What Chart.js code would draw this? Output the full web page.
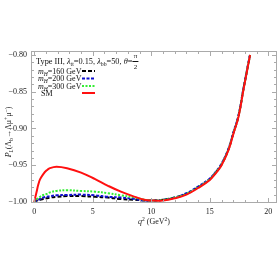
<!DOCTYPE html>
<html>
<head>
<meta charset="utf-8">
<script src="https://cdn.jsdelivr.net/npm/chart.js@4.4.0/dist/chart.umd.min.js"></script>
<style>
  html, body { margin: 0; padding: 0; background: #fff; }
  #wrap { width: 278px; height: 278px; }
</style>
</head>
<body>
<div id="wrap"><canvas id="chart" width="278" height="278"></canvas></div>
<script>
// data
const q2 = [0, 0.1, 0.2, 0.35, 0.5, 0.77, 1.06, 1.34, 1.9, 2.8, 4, 5.2, 6.3, 7.4, 8.6, 9.4, 10, 11, 12, 13, 14, 15, 15.5, 16, 16.6, 17, 17.45, 17.9, 18.44];
const smValues = [-1.000, -0.993, -0.986, -0.976, -0.969, -0.962, -0.957, -0.954, -0.952, -0.954, -0.960, -0.969, -0.978, -0.986, -0.993, -0.997, -0.998, -0.998, -0.995, -0.990, -0.981, -0.970, -0.961, -0.950, -0.929, -0.908, -0.884, -0.845, -0.800];
const mH300 = [-1.000, -0.998, -0.996, -0.995, -0.993, -0.9905, -0.989, -0.987, -0.985, -0.984, -0.985, -0.986, -0.988, -0.991, -0.994, -0.997, -0.998, -0.997, -0.994, -0.989, -0.980, -0.969, -0.960, -0.949, -0.928, -0.907, -0.883, -0.844, -0.800];
const mH200 = [-1.000, -0.999, -0.998, -0.997, -0.996, -0.994, -0.993, -0.992, -0.991, -0.9905, -0.990, -0.991, -0.993, -0.994, -0.996, -0.998, -0.998, -0.997, -0.994, -0.988, -0.979, -0.968, -0.959, -0.948, -0.927, -0.906, -0.882, -0.843, -0.799];
const mH160 = [-1.000, -0.999, -0.998, -0.998, -0.997, -0.996, -0.995, -0.994, -0.993, -0.992, -0.992, -0.993, -0.994, -0.996, -0.997, -0.998, -0.998, -0.997, -0.994, -0.989, -0.980, -0.969, -0.960, -0.949, -0.928, -0.907, -0.883, -0.844, -0.800];

const xTicks = [0, 5, 10, 15, 20];
const xTickLabels = ['0', '5', '10', '15', '20'];
const yTicks = [-1.00, -0.95, -0.90, -0.85, -0.80];
const yTickLabels = ['\u22121.00', '\u22120.95', '\u22120.90', '\u22120.85', '\u22120.80'];

const seriesNames = ['160 GeV', '200 GeV', '300 GeV', 'SM'];

const FONT = '"Liberation Serif", "DejaVu Serif", serif';

function pts(ys) {
    return q2.map((x, i) => ({ x: x, y: ys[i] }));
}

// draw a run of text pieces: {t, sub, sup, it}
function drawRich(ctx, parts, x, y, size) {
    let cx = x;
    parts.forEach(p => {
        const small = p.sub || p.sup;
        const fs = small ? size * 0.7 : size;
        ctx.font = (p.it ? 'italic ' : '') + fs + 'px ' + FONT;
        const dy = p.sub ? size * 0.3 : (p.sup ? -size * 0.4 : 0);
        ctx.fillText(p.t, cx, y + dy);
        cx += ctx.measureText(p.t).width;
    });
    return cx;
}

function richWidth(ctx, parts, size) {
    let w = 0;
    parts.forEach(p => {
        const fs = (p.sub || p.sup) ? size * 0.7 : size;
        ctx.font = (p.it ? 'italic ' : '') + fs + 'px ' + FONT;
        w += ctx.measureText(p.t).width;
    });
    return w;
}

// frame, inward ticks, labels, titles and legend
const framePlugin = {
    id: 'frame',
    afterDatasetsDraw(chart) {
        const ctx = chart.ctx;
        const area = chart.chartArea;
        const xs = chart.scales.x;
        const ys = chart.scales.y;
        ctx.save();
        ctx.strokeStyle = '#aaa';
        ctx.lineWidth = 1;
        ctx.strokeRect(area.left + 0.5, area.top + 0.5, area.right - area.left - 1, area.bottom - area.top - 1);

        // x ticks (major every 5, minor every 1)
        for (let v = 0; v <= 20; v++) {
            const px = Math.round(xs.getPixelForValue(v)) + 0.5;
            const len = v % 5 === 0 ? 5 : 3;
            ctx.beginPath();
            ctx.moveTo(px, area.bottom); ctx.lineTo(px, area.bottom - len);
            ctx.moveTo(px, area.top); ctx.lineTo(px, area.top + len);
            ctx.stroke();
        }
        // y ticks (major every 0.05, minor every 0.01)
        for (let k = 0; k <= 20; k++) {
            const v = -1.0 + k * 0.01;
            const py = Math.round(ys.getPixelForValue(v)) + 0.5;
            const len = k % 5 === 0 ? 5 : 3;
            ctx.beginPath();
            ctx.moveTo(area.left, py); ctx.lineTo(area.left + len, py);
            ctx.moveTo(area.right, py); ctx.lineTo(area.right - len, py);
            ctx.stroke();
        }

        ctx.fillStyle = '#222';
        ctx.font = '8px ' + FONT;
        ctx.textAlign = 'center';
        ctx.textBaseline = 'top';
        xTicks.forEach((v, i) => {
            ctx.fillText(xTickLabels[i], xs.getPixelForValue(v), area.bottom + 5);
        });
        ctx.textAlign = 'right';
        ctx.textBaseline = 'middle';
        yTicks.forEach((v, i) => {
            ctx.fillText(yTickLabels[i], area.left - 4, ys.getPixelForValue(v));
        });

        // axis titles
        ctx.textAlign = 'left';
        ctx.textBaseline = 'alphabetic';
        const xt = [{ t: 'q', it: true }, { t: '2', sup: true }, { t: ' (GeV' }, { t: '2', sup: true }, { t: ')' }];
        const xw = richWidth(ctx, xt, 8);
        drawRich(ctx, xt, (area.left + area.right) / 2 - xw / 2, 224, 8);

        const yt = [{ t: 'P', it: true }, { t: 'L', sub: true, it: true }, { t: '(\u039B' }, { t: 'b', sub: true },
                    { t: '\u2192\u039B\u03BC' }, { t: '+', sup: true }, { t: '\u03BC' }, { t: '\u2212', sup: true }, { t: ')' }];
        const yw = richWidth(ctx, yt, 8);
        ctx.translate(11, 132);
        ctx.rotate(-Math.PI / 2);
        drawRich(ctx, yt, -yw / 2, 0, 8);
        ctx.setTransform(1, 0, 0, 1, 0, 0);

        // legend header
        ctx.fillStyle = '#111';
        const head = [{ t: 'Type III, ' }, { t: '\u03BB', it: true }, { t: 'tt', sub: true }, { t: '=0.15, ' },
                      { t: '\u03BB', it: true }, { t: 'bb', sub: true }, { t: '=50, ' }, { t: '\u03B8', it: true }, { t: '=' }];
        const hx = drawRich(ctx, head, 36, 64, 8.3);
        ctx.font = '7px ' + FONT;
        ctx.textAlign = 'center';
        ctx.fillText('\u03C0', hx + 3, 58);
        ctx.fillText('2', hx + 3, 69);
        ctx.beginPath();
        ctx.moveTo(hx, 61.5); ctx.lineTo(hx + 6, 61.5);
        ctx.strokeStyle = '#111';
        ctx.stroke();
        ctx.textAlign = 'left';

        // legend entries
        const rows = [71, 78.5, 86, 93];
        chart.data.datasets.forEach((ds, i) => {
            const y = rows[i];
            if (i < 3) {
                drawRich(ctx, [{ t: 'm', it: true }, { t: 'H', sub: true, it: true }, { t: '=' + seriesNames[i] }], 38, y + 2.5, 8);
            } else {
                drawRich(ctx, [{ t: seriesNames[i] }], 41, y + 2.5, 8);
            }
            ctx.strokeStyle = ds.borderColor;
            ctx.lineWidth = ds.borderWidth;
            ctx.setLineDash(ds.borderDash || []);
            ctx.beginPath();
            ctx.moveTo(82, y); ctx.lineTo(95, y);
            ctx.stroke();
            ctx.setLineDash([]);
        });
        ctx.restore();
    }
};

new Chart(document.getElementById('chart'), {
    type: 'line',
    data: {
        datasets: [{
            label: seriesNames[0],
            data: pts(mH160),
            borderColor: '#000000',
            borderWidth: 2,
            borderDash: [4, 2],
            order: 3
        }, {
            label: seriesNames[1],
            data: pts(mH200),
            borderColor: '#1010d0',
            borderWidth: 2,
            borderDash: [3, 1.5],
            order: 2
        }, {
            label: seriesNames[2],
            data: pts(mH300),
            borderColor: '#33ee33',
            borderWidth: 2,
            borderDash: [2, 1.5],
            order: 1
        }, {
            label: seriesNames[3],
            data: pts(smValues),
            borderColor: '#ff1010',
            borderWidth: 2,
            order: 0
        }]
    },
    options: {
        responsive: false,
        animation: false,
        events: [],
        layout: { padding: { left: 31, right: 1, top: 51, bottom: 75 } },
        elements: {
            point: { radius: 0 },
            line: { tension: 0.4, fill: false }
        },
        plugins: { legend: { display: false }, tooltip: { enabled: false } },
        scales: {
            x: { type: 'linear', min: -0.28, max: 20.74, display: false },
            y: { type: 'linear', min: -1.0014, max: -0.7946, display: false }
        }
    },
    plugins: [framePlugin]
});
</script>
</body>
</html>
